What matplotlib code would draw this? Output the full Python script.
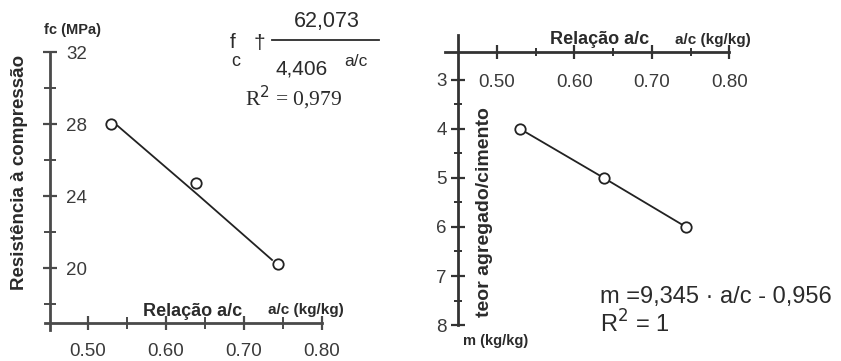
import matplotlib
matplotlib.use("Agg")
import matplotlib.pyplot as plt
from matplotlib.ticker import FixedLocator
from matplotlib.lines import Line2D

plt.rcParams['font.family'] = ['Liberation Sans', 'DejaVu Sans']

# ---- data ----
ac = [0.53, 0.638, 0.744]
fc = [28.0, 24.75, 20.25]
fit_ac = [0.538, 0.64, 0.736]
fit_fc = [27.9, 24.1, 20.45]
m_vals = [4, 5, 6]

x_major = [0.50, 0.60, 0.70, 0.80]
x_minor = [0.55, 0.65, 0.75]
x_labels = ["0.50", "0.60", "0.70", "0.80"]
fc_major = [20, 24, 28, 32]
fc_minor = [18, 22, 26, 30]
m_major = [3, 4, 5, 6, 7, 8]
m_minor = [3.5, 4.5, 5.5, 6.5, 7.5]

W, H = 841, 361
fig = plt.figure(figsize=(W / 100, H / 100), dpi=100)
fig.patch.set_facecolor('white')

TXT = '#2b2b2b'
AX = '#4a4a4a'

def box(x0, y0, x1, y1):
    return [x0 / W, 1 - y1 / H, (x1 - x0) / W, (y1 - y0) / H]

def ftext(x, y, s, **kw):
    fig.text(x / W, 1 - y / H, s, color=kw.pop('color', TXT), **kw)

# ---------- left chart ----------
axL = fig.add_axes(box(45, 45, 330, 335))
axL.set_xlim(0.4449, 0.8103)
axL.set_ylim(16.28, 32.39)
axL.patch.set_alpha(0)
for s in ['left', 'top']:
    axL.spines[s].set_visible(False)
axL.spines['right'].set_position(('data', 0.451))
axL.spines['right'].set_bounds(16.56, 32.0)
axL.spines['bottom'].set_position(('data', 16.94))
axL.spines['bottom'].set_bounds(0.4449, 0.80)
for s in ['right', 'bottom']:
    axL.spines[s].set_color(AX)
    axL.spines[s].set_linewidth(2.0)
axL.yaxis.tick_right()
axL.xaxis.set_major_locator(FixedLocator(x_major))
axL.xaxis.set_minor_locator(FixedLocator(x_minor))
axL.set_xticklabels(x_labels)
axL.yaxis.set_major_locator(FixedLocator(fc_major))
axL.yaxis.set_minor_locator(FixedLocator(fc_minor))
axL.tick_params(which='major', direction='inout', length=10, width=1.6, color=AX,
                labelsize=13.5, labelcolor='#3a3a3a', pad=9)
axL.tick_params(which='minor', direction='inout', length=8, width=1.4, color=AX)
axL.tick_params(axis='y', which='major', pad=7)

axL.plot(fit_ac, fit_fc, color='#222222', lw=1.3, zorder=3)
axL.plot(ac, fc, linestyle='none', marker='o', ms=7.5, mfc='white', mec='#222222',
         mew=1.3, zorder=4)

ftext(44, 30, "fc (MPa)", fontsize=10.5, fontweight='bold', va='center', ha='left')
ftext(20, 172, "Resistência à compressão", fontsize=13.5, fontweight='bold',
      rotation=90, va='center', ha='center')
ftext(143, 311, "Relação a/c", fontsize=13, fontweight='bold', va='center', ha='left')
ftext(268, 310, "a/c (kg/kg)", fontsize=11, fontweight='bold', va='center', ha='left')

# equation (left)
ftext(230, 42, "f", fontsize=15, va='center', ha='left')
ftext(231, 61, "c", fontsize=13, va='center', ha='left')
ftext(254, 44, "†", fontsize=15, va='center', ha='left')
ftext(327, 22, "62,073", fontsize=15.5, va='center', ha='center')
fig.add_artist(Line2D([272 / W, 379 / W], [1 - 40 / H, 1 - 40 / H], color=TXT, lw=1.3))
ftext(276, 69, "4,406", fontsize=15, va='center', ha='left')
ftext(344, 61, "a/c", fontsize=12.5, va='center', ha='left')
ftext(245, 98, "R$^{2}$ = 0,979", fontsize=15.5, va='center', ha='left',
      family=['Liberation Serif', 'DejaVu Serif'])

# ---------- right chart ----------
axR = fig.add_axes(box(440, 30, 760, 340))
axR.set_xlim(0.4265, 0.8394)
axR.set_ylim(8.306, 1.98)
axR.patch.set_alpha(0)
for s in ['right', 'top']:
    axR.spines[s].set_visible(False)
axR.spines['left'].set_position(('data', 0.4497))
axR.spines['left'].set_bounds(2.08, 8.0)
axR.spines['bottom'].set_position(('data', 2.43))
axR.spines['bottom'].set_bounds(0.433, 0.80)
for s in ['left', 'bottom']:
    axR.spines[s].set_color('#333333')
    axR.spines[s].set_linewidth(2.0)
axR.xaxis.set_major_locator(FixedLocator(x_major))
axR.xaxis.set_minor_locator(FixedLocator(x_minor))
axR.set_xticklabels(x_labels)
axR.yaxis.set_major_locator(FixedLocator(m_major))
axR.yaxis.set_minor_locator(FixedLocator(m_minor))
axR.tick_params(which='major', direction='inout', length=10, width=1.6, color='#333333',
                labelsize=13.5, labelcolor='#3a3a3a', pad=11)
axR.tick_params(which='minor', direction='inout', length=6, width=1.4, color='#333333')
axR.tick_params(axis='y', which='major', pad=3)

axR.plot(ac, m_vals, color='#222222', lw=1.3, marker='o', ms=7.5, mfc='white',
         mec='#222222', mew=1.3, zorder=4)

ftext(550, 40, "Relação a/c", fontsize=13, fontweight='bold', va='center', ha='left')
ftext(675, 40, "a/c (kg/kg)", fontsize=11, fontweight='bold', va='center', ha='left')
ftext(485, 212, "teor agregado/cimento", fontsize=14, fontweight='bold',
      rotation=90, va='center', ha='center')
ftext(463, 341, "m (kg/kg)", fontsize=10.5, fontweight='bold', va='center', ha='left')
ftext(600, 297, "m =9,345 · a/c - 0,956", fontsize=17, va='center', ha='left')
ftext(600, 324, "R$^{2}$ = 1", fontsize=17, va='center', ha='left')

fig.savefig("out.png", dpi=100, facecolor='white')
